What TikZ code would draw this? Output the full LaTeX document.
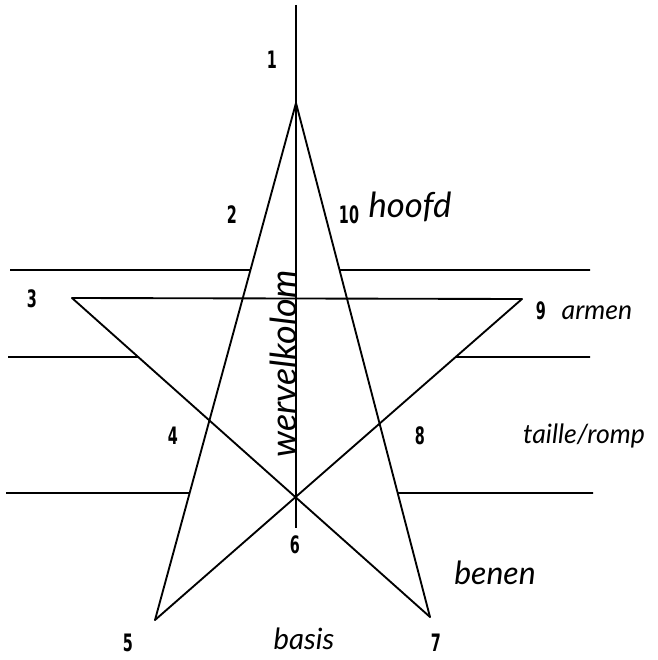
\documentclass[tikz,border=0pt]{standalone}
\usepackage{fontspec}
\usepackage{graphicx}
\newfontfamily\numfont{DejaVu Sans}
\newfontfamily\handfont{Lato}
\newcommand{\numlbl}[1]{\scalebox{0.6}[1]{\numfont\bfseries #1}}
\begin{document}
\begin{tikzpicture}[x=0.75pt,y=-0.75pt,
  edge/.style={line width=1.4pt, line join=round, line cap=round},
  guide/.style={line width=1.3pt},
  axis/.style={line width=0.8pt},
  num/.style={font=\fontsize{18}{18}\selectfont, inner sep=0pt},
  hand/.style={font=\handfont\itshape\fontsize{20}{20}\selectfont, inner sep=0pt}]
\useasboundingbox (0,0) rectangle (657,660);
% star vertices
\coordinate (T) at (296,103);
\coordinate (L) at (72,298);
\coordinate (R) at (522,299);
\coordinate (BL) at (155,620);
\coordinate (BR) at (430,617);
% pentagram
\draw[edge] (T) -- (BL);
\draw[edge] (T) -- (BR);
\draw[edge] (L) -- (R);
\draw[edge] (L) -- (BR);
\draw[edge] (R) -- (BL);
% vertical axis
\coordinate (Vtop) at (296,5);
\coordinate (Vbot) at (296,528);
\draw[axis] (Vtop) -- (Vbot);
% horizontal guide lines (outside the star)
\coordinate (h1l) at (10,270);  \coordinate (h1r) at (590,270);
\coordinate (h2l) at (8,357);   \coordinate (h2r) at (590,357);
\coordinate (h3l) at (6,493);   \coordinate (h3r) at (593,493);
\coordinate (h1a) at (intersection of T--BL and h1l--h1r);
\coordinate (h1b) at (intersection of T--BR and h1l--h1r);
\coordinate (h2a) at (intersection of L--BR and h2l--h2r);
\coordinate (h2b) at (intersection of R--BL and h2l--h2r);
\coordinate (h3a) at (intersection of T--BL and h3l--h3r);
\coordinate (h3b) at (intersection of T--BR and h3l--h3r);
\draw[guide] (h1l) -- (h1a);
\draw[guide] (h1b) -- (h1r);
\draw[guide] (h2l) -- (h2a);
\draw[guide] (h2b) -- (h2r);
\draw[guide] (h3l) -- (h3a);
\draw[guide] (h3b) -- (h3r);
% numbers
\node[num] (n1) at (272,60) {\numlbl{1}};
\node[num] (n2) at (232,215) {\numlbl{2}};
\node[num] (n10) at (349,215) {\numlbl{10}};
\node[num] (n3) at (32,299) {\numlbl{3}};
\node[num] (n9) at (541,311) {\numlbl{9}};
\node[num] (n4) at (173,436) {\numlbl{4}};
\node[num] (n8) at (420,436) {\numlbl{8}};
\node[num] (n6) at (295,545) {\numlbl{6}};
\node[num] (n5) at (128,643) {\numlbl{5}};
\node[num] (n7) at (436,643) {\numlbl{7}};
% handwritten labels
\node[hand, font=\handfont\itshape\fontsize{26}{26}\selectfont] (hoofd) at (410,207) {hoofd};
\node[hand] (armen) at (597,313) {armen};
\node[hand] (taille) at (584,436) {taille/romp};
\node[hand, font=\handfont\itshape\fontsize{24}{24}\selectfont] (benen) at (495,573) {benen};
\node[hand, font=\handfont\itshape\fontsize{22}{22}\selectfont] (basis) at (304,639) {basis};
\node[hand, rotate=90, font=\handfont\itshape\fontsize{27}{27}\selectfont] (wervel) at (283,364) {wervelkolom};
\end{tikzpicture}
\end{document}
